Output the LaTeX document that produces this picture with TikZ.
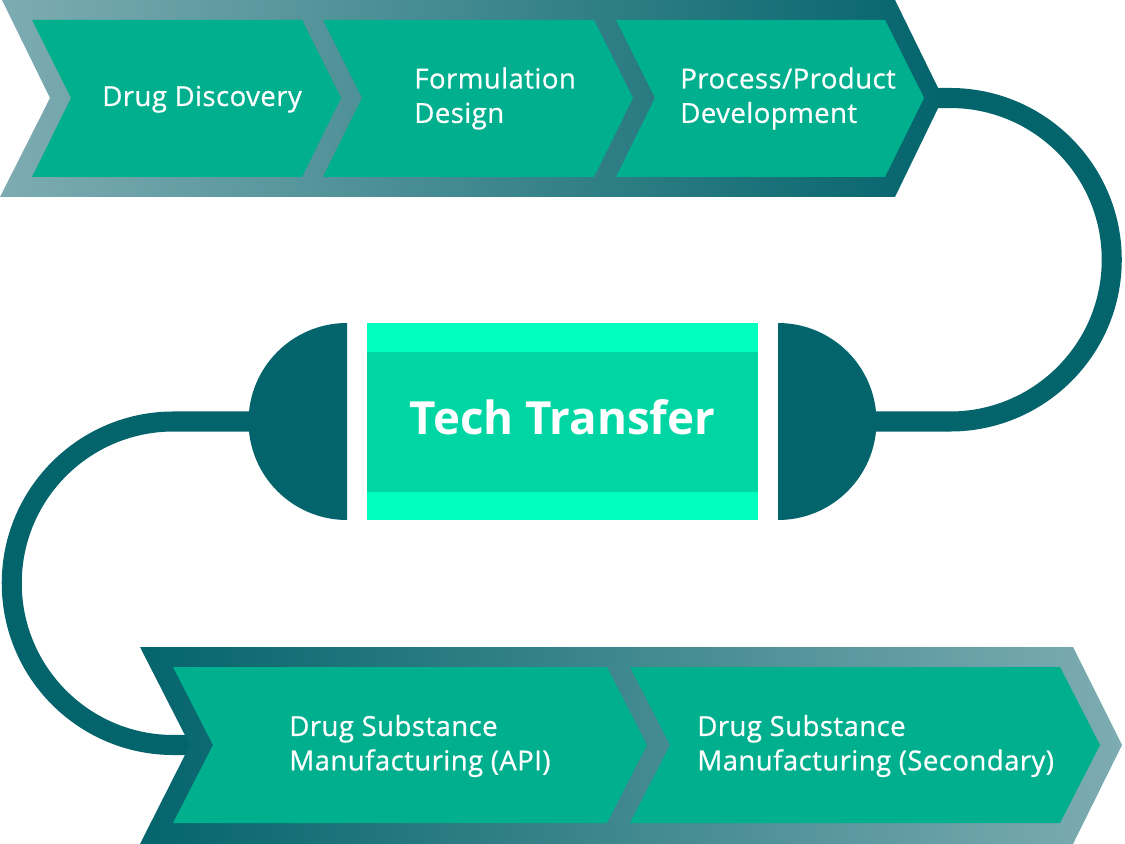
\documentclass[tikz,border=0pt]{standalone}
\usepackage{fontspec}
\setmainfont{Open Sans}
\newfontfamily\stagefont{Open Sans}[FakeBold=0.6, LetterSpace=1.5]
\usetikzlibrary{positioning}

\definecolor{tealdark}{RGB}{4,100,108}
\definecolor{bandlight}{RGB}{125,172,178}
\definecolor{chevgreen}{RGB}{0,175,142}
\definecolor{mintlight}{RGB}{0,255,190}
\definecolor{mintmid}{RGB}{0,214,163}

\tikzset{
  conn/.style={draw=tealdark, line width=11.4pt},
  chev/.style={fill=chevgreen},
  plug/.style={fill=tealdark},
  stage/.style={text=white, inner sep=0pt, align=left, anchor=west,
    font=\stagefont\fontsize{15.7}{19.6}\selectfont},
  ttlabel/.style={text=white, inner sep=0pt, anchor=base,
    font=\fontsize{26}{31}\selectfont\bfseries}
}

\begin{document}
\begin{tikzpicture}[x=0.02cm, y=-0.02cm]
		\useasboundingbox (0,0) rectangle (1125,844);
		
		% Define connector end points
		\coordinate (toptip) at (935,98);
		\coordinate (rplug) at (840,421.5);
		\coordinate (lplug) at (290,421.5);
		\coordinate (botnotch) at (200,745);
		
		% Draw connections
		\draw[conn] (toptip) -- ++(15,0) arc[start angle=-90, end angle=90, radius=161.75] -- (rplug);
		\draw[conn] (lplug) -- (173.5,421.5) arc[start angle=-90, end angle=-270, radius=161.75] -- (botnotch);
		
		% Top band
		\shade[left color=bandlight, right color=tealdark]
			(2,0) -- (895,0) -- (943,98) -- (895,197) -- (0,197) -- (50,98) -- cycle;
		\foreach \xa/\xb in {32/302, 323/594, 616/885}
			\fill[chev] (\xa,20) -- (\xb,20) -- (\xb+39,98) -- (\xb,177) -- (\xa,177) -- (\xa+39,98) -- cycle;
		
		% Bottom band
		\shade[left color=tealdark, right color=bandlight]
			(140,647) -- (1073,647) -- (1122,745) -- (1073,844) -- (140,844) -- (190,745) -- cycle;
		\foreach \xa/\xb in {173/607, 630/1060}
			\fill[chev] (\xa,667) -- (\xb,667) -- (\xb+40,745) -- (\xb,823) -- (\xa,823) -- (\xa+40,745) -- cycle;
		
		% Plugs and tech transfer box
		\fill[plug] (347,323) arc[start angle=-90, end angle=-270, radius=98.5] -- cycle;
		\fill[plug] (778,323) arc[start angle=-90, end angle=90, radius=98.5] -- cycle;
		\fill[mintlight] (367,323) rectangle (758,520);
		\fill[mintmid] (367,352) rectangle (758,492);
		
		% Labels
		\node[stage, anchor=base west] (dd) at (102,106) {Drug Discovery};
		\node[stage] (fd) at (414,98.5) {Formulation\\Design};
		\node[stage] (ppd) at (680,98.5) {Process/Product\\Development};
		\node[stage] (dsapi) at (289,746) {Drug Substance\\Manufacturing (API)};
		\node[stage] (dssec) at (697,746) {Drug Substance\\Manufacturing (Secondary)};
		\node[ttlabel] (tt) at (562.5,434) {Tech Transfer};
	\end{tikzpicture}
\end{document}
